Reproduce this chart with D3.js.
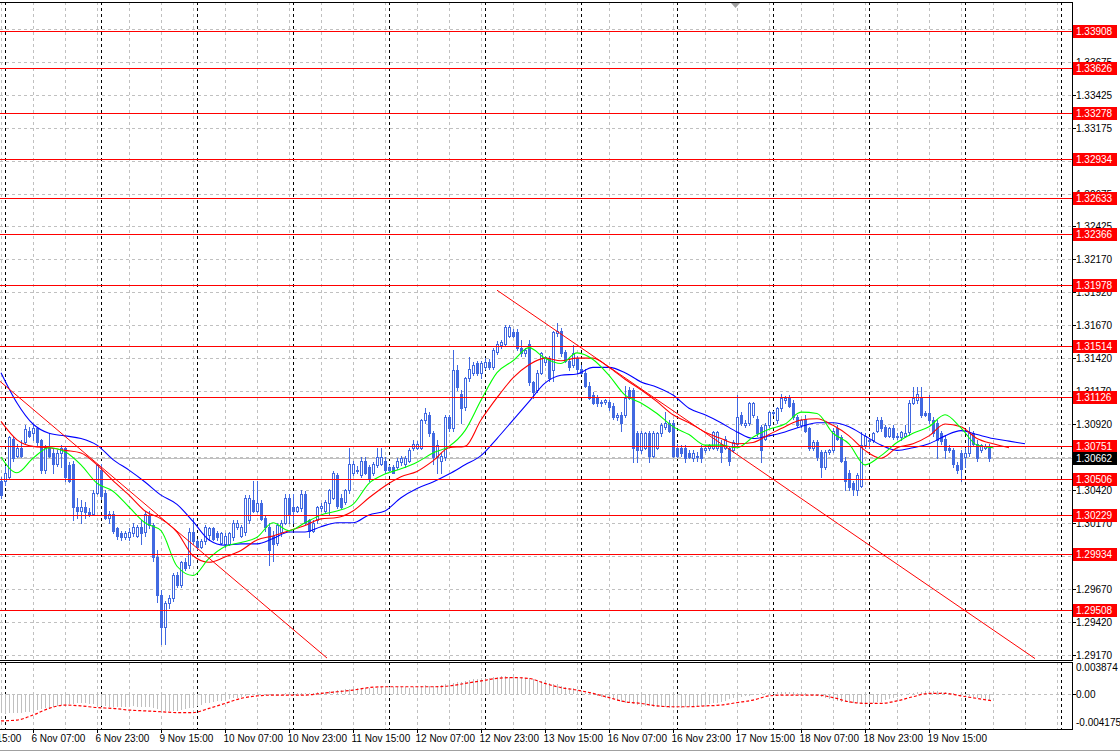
<!DOCTYPE html>
<html><head><meta charset="utf-8">
<script src="https://cdn.jsdelivr.net/npm/d3@7/dist/d3.min.js"></script>
<style>
html,body{margin:0;padding:0;background:#fff;overflow:hidden;}
svg{display:block;}
text{font-family:"Liberation Sans",Arial,sans-serif;font-size:10px;}
</style></head><body>
<svg id="c" width="1120" height="754"></svg>
<script>
// ===== DATA (H1 bars) =====
const opens = [1.3049,1.3049,1.3052,1.3081,1.3068,1.3074,1.3078,1.3087,1.3085,1.3089,1.3080,1.3057,1.3074,1.3070,1.3062,1.3070,1.3074,1.3061,1.3062,1.3029,1.3026,1.3029,1.3025,1.3024,1.3040,1.3057,1.3040,1.3021,1.3024,1.3013,1.3009,1.3006,1.3006,1.3009,1.3007,1.3014,1.3010,1.3023,1.3015,1.2991,1.2962,1.2938,1.2956,1.2960,1.2977,1.2970,1.2987,1.2985,1.3010,1.3003,1.2999,1.3003,1.3008,1.3013,1.3009,1.3002,1.3001,1.3001,1.3006,1.3014,1.3007,1.3010,1.3019,1.3034,1.3026,1.3032,1.3021,1.3014,1.3007,1.3002,1.3010,1.3017,1.3036,1.3029,1.3026,1.3028,1.3039,1.3019,1.3011,1.3019,1.3028,1.3026,1.3032,1.3036,1.3053,1.3036,1.3033,1.3042,1.3055,1.3057,1.3053,1.3064,1.3059,1.3055,1.3061,1.3062,1.3064,1.3059,1.3059,1.3059,1.3063,1.3062,1.3064,1.3074,1.3074,1.3074,1.3095,1.3099,1.3085,1.3067,1.3064,1.3067,1.3097,1.3089,1.3133,1.3115,1.3105,1.3127,1.3131,1.3138,1.3131,1.3135,1.3139,1.3135,1.3147,1.3152,1.3153,1.3159,1.3162,1.3162,1.3150,1.3146,1.3153,1.3124,1.3118,1.3131,1.3139,1.3142,1.3133,1.3161,1.3163,1.3147,1.3140,1.3137,1.3142,1.3134,1.3131,1.3121,1.3114,1.3112,1.3108,1.3109,1.3109,1.3106,1.3097,1.3099,1.3099,1.3118,1.3118,1.3085,1.3072,1.3074,1.3085,1.3068,1.3074,1.3085,1.3090,1.3093,1.3093,1.3074,1.3074,1.3074,1.3070,1.3066,1.3067,1.3074,1.3072,1.3074,1.3074,1.3074,1.3077,1.3074,1.3074,1.3072,1.3077,1.3099,1.3091,1.3093,1.3099,1.3096,1.3090,1.3081,1.3091,1.3100,1.3095,1.3104,1.3110,1.3112,1.3108,1.3097,1.3091,1.3096,1.3089,1.3074,1.3078,1.3071,1.3059,1.3071,1.3072,1.3089,1.3082,1.3064,1.3055,1.3047,1.3042,1.3045,1.3076,1.3079,1.3080,1.3087,1.3095,1.3090,1.3083,1.3089,1.3083,1.3082,1.3083,1.3086,1.3108,1.3110,1.3112,1.3100,1.3100,1.3095,1.3093,1.3085,1.3081,1.3074,1.3072,1.3061,1.3070,1.3067,1.3070,1.3085,1.3077,1.3072,1.3074,1.3074];
const highs = [1.3052,1.3060,1.3083,1.3083,1.3077,1.3080,1.3091,1.3090,1.3091,1.3090,1.3081,1.3076,1.3085,1.3074,1.3072,1.3076,1.3075,1.3063,1.3064,1.3036,1.3034,1.3033,1.3028,1.3042,1.3062,1.3062,1.3042,1.3026,1.3026,1.3014,1.3011,1.3011,1.3013,1.3017,1.3015,1.3019,1.3026,1.3026,1.3017,1.2996,1.2966,1.2958,1.2962,1.2979,1.2980,1.2988,1.2990,1.3013,1.3021,1.3005,1.3005,1.3015,1.3014,1.3014,1.3011,1.3010,1.3009,1.3010,1.3019,1.3019,1.3015,1.3038,1.3038,1.3049,1.3049,1.3034,1.3023,1.3017,1.3011,1.3017,1.3019,1.3039,1.3039,1.3039,1.3030,1.3042,1.3041,1.3020,1.3019,1.3030,1.3032,1.3034,1.3043,1.3056,1.3055,1.3039,1.3043,1.3074,1.3064,1.3060,1.3067,1.3067,1.3061,1.3063,1.3074,1.3074,1.3067,1.3061,1.3061,1.3066,1.3068,1.3068,1.3074,1.3080,1.3079,1.3096,1.3104,1.3101,1.3087,1.3080,1.3070,1.3099,1.3099,1.3148,1.3137,1.3118,1.3128,1.3143,1.3139,1.3140,1.3140,1.3142,1.3141,1.3150,1.3155,1.3156,1.3167,1.3167,1.3164,1.3164,1.3156,1.3150,1.3156,1.3125,1.3133,1.3147,1.3144,1.3144,1.3163,1.3169,1.3165,1.3148,1.3143,1.3152,1.3144,1.3137,1.3134,1.3124,1.3116,1.3114,1.3110,1.3111,1.3110,1.3108,1.3100,1.3101,1.3121,1.3120,1.3119,1.3087,1.3087,1.3086,1.3087,1.3087,1.3086,1.3093,1.3101,1.3095,1.3095,1.3077,1.3076,1.3076,1.3072,1.3072,1.3071,1.3076,1.3076,1.3077,1.3087,1.3087,1.3080,1.3083,1.3075,1.3080,1.3114,1.3101,1.3095,1.3109,1.3109,1.3098,1.3091,1.3093,1.3102,1.3102,1.3105,1.3115,1.3113,1.3114,1.3110,1.3099,1.3096,1.3099,1.3090,1.3080,1.3080,1.3072,1.3072,1.3073,1.3089,1.3091,1.3084,1.3067,1.3057,1.3049,1.3055,1.3086,1.3085,1.3081,1.3086,1.3097,1.3097,1.3091,1.3090,1.3091,1.3085,1.3087,1.3091,1.3110,1.3120,1.3120,1.3120,1.3102,1.3114,1.3097,1.3095,1.3087,1.3083,1.3076,1.3074,1.3063,1.3072,1.3074,1.3090,1.3087,1.3080,1.3077,1.3077,1.3077];
const lows = [1.3036,1.3046,1.3050,1.3064,1.3067,1.3067,1.3077,1.3082,1.3080,1.3076,1.3055,1.3055,1.3067,1.3055,1.3060,1.3059,1.3049,1.3048,1.3019,1.3021,1.3017,1.3021,1.3022,1.3023,1.3039,1.3035,1.3020,1.3017,1.3009,1.3005,1.3004,1.3005,1.3004,1.3007,1.3006,1.3001,1.3007,1.3013,1.2988,1.2957,1.2925,1.2925,1.2952,1.2958,1.2968,1.2968,1.2981,1.2983,1.3001,1.2997,1.2998,1.3001,1.3004,1.3004,1.3004,1.3001,1.2999,1.3000,1.3004,1.3012,1.3006,1.3008,1.3017,1.3025,1.3025,1.3019,1.3011,1.2985,1.2988,1.3000,1.3007,1.3016,1.3017,1.3017,1.3025,1.3026,1.3016,1.3006,1.3010,1.3017,1.3026,1.3025,1.3024,1.3035,1.3028,1.3028,1.3031,1.3040,1.3053,1.3055,1.3052,1.3054,1.3049,1.3053,1.3059,1.3061,1.3055,1.3056,1.3055,1.3058,1.3061,1.3059,1.3063,1.3072,1.3073,1.3073,1.3093,1.3083,1.3062,1.3055,1.3055,1.3065,1.3087,1.3087,1.3118,1.3093,1.3103,1.3125,1.3129,1.3129,1.3127,1.3134,1.3134,1.3134,1.3145,1.3150,1.3152,1.3158,1.3158,1.3148,1.3144,1.3144,1.3122,1.3112,1.3116,1.3130,1.3137,1.3125,1.3125,1.3159,1.3144,1.3139,1.3133,1.3135,1.3131,1.3130,1.3120,1.3111,1.3107,1.3106,1.3106,1.3107,1.3103,1.3096,1.3095,1.3087,1.3097,1.3111,1.3063,1.3063,1.3070,1.3073,1.3063,1.3067,1.3073,1.3083,1.3088,1.3086,1.3067,1.3067,1.3068,1.3063,1.3066,1.3064,1.3064,1.3063,1.3071,1.3072,1.3073,1.3072,1.3063,1.3073,1.3061,1.3071,1.3076,1.3091,1.3090,1.3091,1.3097,1.3083,1.3063,1.3080,1.3090,1.3099,1.3093,1.3102,1.3108,1.3105,1.3096,1.3090,1.3090,1.3086,1.3072,1.3072,1.3065,1.3052,1.3058,1.3069,1.3071,1.3080,1.3063,1.3042,1.3042,1.3038,1.3038,1.3044,1.3074,1.3074,1.3078,1.3086,1.3087,1.3082,1.3082,1.3081,1.3081,1.3080,1.3082,1.3084,1.3107,1.3108,1.3097,1.3098,1.3093,1.3083,1.3066,1.3077,1.3066,1.3071,1.3059,1.3055,1.3049,1.3059,1.3068,1.3076,1.3064,1.3071,1.3073,1.3064];
const closes = [1.3038,1.3055,1.3082,1.3066,1.3074,1.3068,1.3088,1.3083,1.3089,1.3078,1.3057,1.3074,1.3068,1.3062,1.3070,1.3074,1.3052,1.3049,1.3029,1.3026,1.3029,1.3025,1.3024,1.3040,1.3061,1.3037,1.3021,1.3024,1.3011,1.3007,1.3006,1.3009,1.3010,1.3014,1.3014,1.3009,1.3024,1.3015,1.2991,1.2962,1.2938,1.2956,1.2960,1.2977,1.2970,1.2987,1.2983,1.3010,1.3003,1.2999,1.3003,1.3014,1.3013,1.3005,1.3006,1.3009,1.3007,1.3009,1.3017,1.3017,1.3014,1.3036,1.3036,1.3026,1.3032,1.3020,1.3014,1.2996,1.3001,1.3015,1.3017,1.3036,1.3024,1.3026,1.3029,1.3039,1.3017,1.3011,1.3017,1.3029,1.3030,1.3033,1.3042,1.3055,1.3030,1.3029,1.3042,1.3062,1.3062,1.3056,1.3064,1.3055,1.3051,1.3062,1.3067,1.3067,1.3057,1.3057,1.3055,1.3064,1.3066,1.3066,1.3072,1.3077,1.3077,1.3095,1.3100,1.3085,1.3067,1.3076,1.3068,1.3097,1.3089,1.3133,1.3120,1.3104,1.3127,1.3134,1.3137,1.3131,1.3138,1.3139,1.3135,1.3148,1.3153,1.3154,1.3166,1.3166,1.3159,1.3150,1.3146,1.3148,1.3124,1.3116,1.3131,1.3146,1.3143,1.3127,1.3162,1.3163,1.3146,1.3140,1.3135,1.3146,1.3134,1.3131,1.3121,1.3112,1.3108,1.3108,1.3109,1.3110,1.3105,1.3097,1.3099,1.3093,1.3112,1.3112,1.3074,1.3072,1.3085,1.3085,1.3068,1.3085,1.3085,1.3091,1.3093,1.3087,1.3068,1.3068,1.3070,1.3066,1.3067,1.3070,1.3068,1.3066,1.3074,1.3076,1.3086,1.3086,1.3071,1.3081,1.3064,1.3078,1.3097,1.3093,1.3093,1.3108,1.3108,1.3085,1.3072,1.3091,1.3101,1.3101,1.3104,1.3112,1.3112,1.3106,1.3097,1.3091,1.3095,1.3087,1.3074,1.3078,1.3067,1.3059,1.3071,1.3072,1.3087,1.3081,1.3064,1.3049,1.3044,1.3043,1.3053,1.3076,1.3083,1.3080,1.3085,1.3095,1.3089,1.3083,1.3089,1.3082,1.3082,1.3086,1.3085,1.3108,1.3112,1.3115,1.3099,1.3099,1.3095,1.3085,1.3080,1.3079,1.3072,1.3072,1.3062,1.3057,1.3058,1.3070,1.3085,1.3077,1.3066,1.3076,1.3075,1.3066];

// Alligator-style moving averages, read every 4 bars (bar 0, 4, 8, ...)
const greenMA = [1.3067,1.3055,1.3066,1.3074,1.3071,1.3061,1.3047,1.3041,1.3029,1.3017,1.3011,1.2984,1.2977,1.2990,1.2999,1.3002,1.3006,1.3017,1.3011,1.3017,1.3023,1.3026,1.3031,1.3047,1.3054,1.3058,1.3063,1.3070,1.3075,1.3087,1.3110,1.3131,1.3140,1.3150,1.3142,1.3138,1.3146,1.3141,1.3129,1.3114,1.3108,1.3100,1.3090,1.3084,1.3076,1.3076,1.3074,1.3082,1.3088,1.3092,1.3101,1.3100,1.3085,1.3077,1.3061,1.3068,1.3078,1.3085,1.3090,1.3099,1.3089,1.3076,1.3074];
const redMA = [1.3094,1.3080,1.3075,1.3074,1.3072,1.3070,1.3061,1.3049,1.3038,1.3026,1.3020,1.3010,1.2992,1.2987,1.2991,1.2996,1.3004,1.3007,1.3011,1.3015,1.3020,1.3021,1.3026,1.3036,1.3045,1.3052,1.3056,1.3064,1.3074,1.3075,1.3095,1.3112,1.3127,1.3137,1.3142,1.3140,1.3142,1.3142,1.3135,1.3126,1.3118,1.3109,1.3099,1.3093,1.3086,1.3081,1.3077,1.3078,1.3084,1.3090,1.3095,1.3096,1.3091,1.3083,1.3072,1.3066,1.3074,1.3077,1.3083,1.3092,1.3090,1.3081,1.3077,1.3074];
const blueMA = [1.3131,1.3108,1.3092,1.3085,1.3083,1.3081,1.3076,1.3065,1.3057,1.3048,1.3038,1.3031,1.3018,1.3004,1.3000,1.3001,1.3001,1.3005,1.3010,1.3010,1.3014,1.3017,1.3017,1.3023,1.3026,1.3036,1.3043,1.3048,1.3054,1.3061,1.3068,1.3081,1.3095,1.3109,1.3123,1.3129,1.3130,1.3135,1.3135,1.3131,1.3124,1.3120,1.3114,1.3104,1.3099,1.3093,1.3086,1.3081,1.3083,1.3086,1.3090,1.3093,1.3093,1.3090,1.3083,1.3076,1.3072,1.3074,1.3077,1.3083,1.3087,1.3084,1.3081,1.3079,1.3077];

// MACD sub-window: histogram per bar, signal every 4 bars
const macdHist = [-0.0023,-0.0024,-0.0023,-0.0022,-0.0022,-0.0022,-0.0021,-0.0021,-0.0020,-0.0019,-0.0018,-0.0017,-0.0016,-0.0015,-0.0014,-0.0013,-0.0013,-0.0012,-0.0012,-0.0011,-0.0011,-0.0011,-0.0012,-0.0012,-0.0013,-0.0014,-0.0014,-0.0015,-0.0015,-0.0015,-0.0015,-0.0015,-0.0015,-0.0014,-0.0015,-0.0015,-0.0015,-0.0015,-0.0016,-0.0018,-0.0019,-0.0020,-0.0020,-0.0020,-0.0020,-0.0019,-0.0018,-0.0017,-0.0016,-0.0014,-0.0013,-0.0011,-0.0010,-0.0009,-0.0008,-0.0008,-0.0007,-0.0006,-0.0005,-0.0004,-0.0003,-0.0002,-0.0001,-0.0001,0.0000,0.0000,-0.0001,-0.0001,-0.0001,-0.0001,0.0000,0.0001,0.0001,0.0001,0.0001,0.0001,0.0001,0.0002,0.0002,0.0003,0.0003,0.0003,0.0004,0.0004,0.0005,0.0005,0.0006,0.0006,0.0007,0.0007,0.0007,0.0008,0.0008,0.0008,0.0008,0.0009,0.0009,0.0009,0.0009,0.0009,0.0009,0.0009,0.0008,0.0009,0.0009,0.0010,0.0011,0.0010,0.0010,0.0010,0.0011,0.0012,0.0013,0.0014,0.0015,0.0015,0.0016,0.0017,0.0018,0.0018,0.0019,0.0020,0.0020,0.0021,0.0021,0.0022,0.0022,0.0021,0.0021,0.0021,0.0021,0.0020,0.0019,0.0018,0.0017,0.0016,0.0014,0.0013,0.0012,0.0012,0.0010,0.0009,0.0008,0.0007,0.0005,0.0004,0.0002,0.0001,-0.0001,-0.0002,-0.0003,-0.0004,-0.0005,-0.0006,-0.0008,-0.0009,-0.0010,-0.0011,-0.0012,-0.0013,-0.0014,-0.0014,-0.0014,-0.0015,-0.0015,-0.0015,-0.0015,-0.0016,-0.0016,-0.0016,-0.0016,-0.0015,-0.0015,-0.0015,-0.0014,-0.0014,-0.0013,-0.0012,-0.0011,-0.0010,-0.0009,-0.0008,-0.0006,-0.0005,-0.0004,-0.0003,-0.0002,-0.0002,-0.0001,0.0000,0.0001,0.0001,0.0002,0.0002,0.0003,0.0003,0.0003,0.0003,0.0003,0.0002,0.0002,0.0001,0.0000,-0.0001,-0.0002,-0.0003,-0.0004,-0.0006,-0.0007,-0.0008,-0.0009,-0.0009,-0.0010,-0.0011,-0.0011,-0.0011,-0.0011,-0.0010,-0.0010,-0.0009,-0.0009,-0.0007,-0.0006,-0.0004,-0.0003,-0.0002,0.0000,0.0001,0.0002,0.0003,0.0003,0.0004,0.0004,0.0004,0.0004,0.0003,0.0003,0.0002,0.0001,0.0000,-0.0001,-0.0002,-0.0002,-0.0003,-0.0004,-0.0005,-0.0006,-0.0007];
const macdSignal = [-0.0032,-0.0031,-0.0025,-0.0017,-0.0013,-0.0014,-0.0016,-0.0017,-0.0019,-0.0020,-0.0021,-0.0022,-0.0022,-0.0017,-0.0011,-0.0005,-0.0002,-0.0001,-0.0001,-0.0001,0.0001,0.0003,0.0005,0.0008,0.0009,0.0009,0.0009,0.0009,0.0010,0.0013,0.0016,0.0019,0.0020,0.0019,0.0013,0.0008,0.0005,0.0001,-0.0004,-0.0009,-0.0011,-0.0014,-0.0015,-0.0015,-0.0014,-0.0013,-0.0010,-0.0007,-0.0002,-0.0001,-0.0001,-0.0001,-0.0004,-0.0009,-0.0011,-0.0011,-0.0008,-0.0003,0.0001,0.0001,-0.0002,-0.0005,-0.0008];
const macdMax = 0.003874, macdMin = -0.004175;

// horizontal support/resistance levels
const levels = [1.33908,1.33626,1.33278,1.32934,1.32633,1.32366,1.31978,1.31514,1.31126,1.30751,1.30506,1.30229,1.29934,1.29508];
const levelLabels = ["1.33908","1.33626","1.33278","1.32934","1.32633","1.32366","1.31978","1.31514","1.31126","1.30751","1.30506","1.30229","1.29934","1.29508"];
const bidPrice = 1.30662, bidLabel = "1.30662";

// trend lines: [barIndex, price] pairs
const trendLine1 = [[-0.25, 1.31244], [81.5, 1.29143]];
const trendLine2 = [[124, 1.31936], [258.5, 1.29139]];

// price axis ticks
const priceTicks = [1.33920,1.33670,1.33420,1.33170,1.32920,1.32670,1.32420,1.32170,1.31920,1.31670,1.31420,1.31170,1.30920,1.30670,1.30420,1.30170,1.29920,1.29670,1.29420,1.29170];
const priceTickLabels = ["1.33925","1.33675","1.33425","1.33175","1.32925","1.32675","1.32425","1.32170","1.31920","1.31670","1.31420","1.31170","1.30920","1.30670","1.30420","1.30170","1.29920","1.29670","1.29420","1.29170"];

// time axis (bar 0 = 5 Nov 23:00)
const timeLabels = ["5 Nov 15:00","6 Nov 07:00","6 Nov 23:00","9 Nov 15:00","10 Nov 07:00","10 Nov 23:00","11 Nov 15:00","12 Nov 07:00","12 Nov 23:00","13 Nov 15:00","16 Nov 07:00","16 Nov 23:00","17 Nov 15:00","18 Nov 07:00","18 Nov 23:00","19 Nov 15:00"];
const timeLabelBars = [-8,8,24,40,56,72,88,104,120,136,152,168,184,200,216,232];
const daySeparatorBars = [1,25,49,73,97,121,145,169,193,217,241,265];
const gridBars = [0,8,16,24,32,40,48,56,64,72,80,88,96,104,112,120,128,136,144,152,160,168,176,184,192,200,208,216,224,232,240,248,256,264];
const shiftMarkerBar = 183.5;

// ===== LAYOUT =====
const axisX = 1072;
const mainTop = 2, mainBottom = 660, subTop = 662, subBottom = 729;
const candleColor = "#4169e1";

const x = d3.scaleLinear().domain([0, 247]).range([1, 989]);
const y = d3.scaleLinear().domain([1.29170, 1.33908]).range([654.5, 30.5]);
const ym = d3.scaleLinear().domain([macdMin, macdMax]).range([subBottom, subTop]);
const px = v => Math.round(v) + 0.5;

const svg = d3.select("#c");
svg.append("rect").attr("width",1120).attr("height",754).attr("fill","#fff");
const defs = svg.append("defs");
defs.append("clipPath").attr("id","clipMain").append("rect").attr("x",0).attr("y",mainTop+1).attr("width",axisX).attr("height",mainBottom-mainTop-1);
defs.append("clipPath").attr("id","clipSub").append("rect").attr("x",0).attr("y",subTop+1).attr("width",axisX).attr("height",subBottom-subTop-1);

const gMain = svg.append("g").attr("clip-path","url(#clipMain)");
const gSub = svg.append("g").attr("clip-path","url(#clipSub)");
const crisp = s => s.attr("shape-rendering","crispEdges");

// grid - horizontal
priceTicks.forEach(v => {
  crisp(gMain.append("line").attr("x1",0).attr("x2",axisX).attr("y1",px(y(v))).attr("y2",px(y(v)))
    .attr("stroke","#c0c0c0").attr("stroke-dasharray","3,3"));
});
crisp(gSub.append("line").attr("x1",0).attr("x2",axisX).attr("y1",px(ym(0))).attr("y2",px(ym(0)))
  .attr("stroke","#c0c0c0").attr("stroke-dasharray","3,3"));
// grid - vertical
gridBars.forEach(b => {
  [gMain, gSub].forEach((g,k) => {
    crisp(g.append("line").attr("x1",px(x(b))).attr("x2",px(x(b)))
      .attr("y1",k?subTop:mainTop).attr("y2",k?subBottom:mainBottom)
      .attr("stroke","#c0c0c0").attr("stroke-dasharray","3,3"));
  });
});
daySeparatorBars.forEach(b => {
  [gMain, gSub].forEach((g,k) => {
    crisp(g.append("line").attr("x1",px(x(b))).attr("x2",px(x(b)))
      .attr("y1",k?subTop:mainTop).attr("y2",k?subBottom:mainBottom)
      .attr("stroke","#000").attr("stroke-dasharray","3,3"));
  });
});

// bid line
crisp(gMain.append("line").attr("x1",0).attr("x2",axisX).attr("y1",px(y(bidPrice))).attr("y2",px(y(bidPrice))).attr("stroke","#c0c0c0"));

// candles
const bars = closes.map((c,i)=>({i,o:opens[i],h:Math.max(highs[i],opens[i],c),l:Math.min(lows[i],opens[i],c),c}));
const gC = gMain.append("g");
bars.forEach(d => {
  const xc = Math.round(x(d.i));
  crisp(gC.append("line").attr("x1",xc+0.5).attr("x2",xc+0.5)
    .attr("y1",Math.round(y(d.h))).attr("y2",Math.round(y(d.l))+1).attr("stroke",candleColor));
  const top = Math.round(y(Math.max(d.o,d.c))), bot = Math.round(y(Math.min(d.o,d.c)));
  if (d.c >= d.o) {
    crisp(gC.append("rect").attr("x",xc-0.5).attr("y",top+0.5).attr("width",2).attr("height",Math.max(bot-top,0))
      .attr("fill","#fff").attr("stroke",candleColor));
  } else {
    crisp(gC.append("rect").attr("x",xc-1).attr("y",top).attr("width",3).attr("height",bot-top+1).attr("fill",candleColor));
  }
});

// moving averages
function maLine(vals, color) {
  const pts = vals.map((v,k)=>[x(k*4), y(v)]);
  gMain.append("path").attr("d", d3.line().curve(d3.curveMonotoneX)(pts))
    .attr("fill","none").attr("stroke",color).attr("stroke-width",1.1);
}
maLine(blueMA, "#0000ff");
maLine(redMA, "#ff0000");
maLine(greenMA, "#00ff00");

// levels
levels.forEach(v => {
  crisp(gMain.append("line").attr("x1",0).attr("x2",axisX).attr("y1",px(y(v))).attr("y2",px(y(v))).attr("stroke","#ff0000"));
});
// trend lines
[trendLine1, trendLine2].forEach(t => {
  gMain.append("line").attr("x1",x(t[0][0])).attr("y1",y(t[0][1])).attr("x2",x(t[1][0])).attr("y2",y(t[1][1]))
    .attr("stroke","#ff0000").attr("stroke-width",1);
});

// MACD histogram + signal
macdHist.forEach((v,i) => {
  const xc = Math.round(x(i));
  crisp(gSub.append("line").attr("x1",xc+0.5).attr("x2",xc+0.5).attr("y1",Math.round(ym(0))).attr("y2",Math.round(ym(v)))
    .attr("stroke","#c0c0c0"));
});
gSub.append("path").attr("d", d3.line().curve(d3.curveMonotoneX)(macdSignal.map((v,k)=>[x(k*4), ym(v)])))
  .attr("fill","none").attr("stroke","#ff0000").attr("stroke-width",1.2).attr("stroke-dasharray","3,2");

// borders
const border = (x1,y1,x2,y2,c) => crisp(svg.append("line").attr("x1",x1).attr("y1",y1).attr("x2",x2).attr("y2",y2).attr("stroke",c||"#000"));
border(0, mainTop+0.5, axisX+0.5, mainTop+0.5);
border(0, mainBottom+0.5, axisX+0.5, mainBottom+0.5);
border(0, subTop+0.5, axisX+0.5, subTop+0.5);
border(0, subBottom+0.5, axisX+0.5, subBottom+0.5);
border(axisX+0.5, mainTop, axisX+0.5, mainBottom+1);
border(axisX+0.5, subTop, axisX+0.5, subBottom+1);
border(0, 750.5, 1120, 750.5, "#a0a0a0");

// shift marker
const mx = Math.round(x(shiftMarkerBar));
svg.append("path").attr("d",`M${mx-4},${mainTop+1}L${mx+5},${mainTop+1}L${mx+0.5},${mainTop+6}Z`).attr("fill","#a0a0a0");

// price axis labels (those completely hidden under a level box are not drawn)
const boxYs = levels.concat([bidPrice]).map(v => y(v));
priceTicks.forEach((v,k) => {
  const yy = px(y(v));
  crisp(svg.append("line").attr("x1",axisX).attr("x2",axisX+4).attr("y1",yy).attr("y2",yy).attr("stroke","#000"));
  const hidden = boxYs.some(b => Math.abs(b - y(v)) < 4);
  if (!hidden) svg.append("text").attr("x",axisX+4).attr("y",yy+3.5).attr("fill","#000").text(priceTickLabels[k]);
});
// level boxes
function box(v, label, bg) {
  const yy = Math.round(y(v));
  crisp(svg.append("rect").attr("x",axisX+1).attr("y",yy-6).attr("width",44).attr("height",13).attr("fill",bg));
  svg.append("text").attr("x",axisX+4).attr("y",yy+4).attr("fill","#fff").text(label);
}
levels.forEach((v,k) => box(v, levelLabels[k], "#ff0000"));
box(bidPrice, bidLabel, "#000");

// MACD axis labels
svg.append("text").attr("x",axisX+4).attr("y",subTop+9).attr("fill","#000").text(String(macdMax));
crisp(svg.append("line").attr("x1",axisX).attr("x2",axisX+4).attr("y1",px(ym(0))).attr("y2",px(ym(0))).attr("stroke","#000"));
svg.append("text").attr("x",axisX+4).attr("y",px(ym(0))+3.5).attr("fill","#000").text("0.00");
svg.append("text").attr("x",axisX+4).attr("y",subBottom-3).attr("fill","#000").text(String(macdMin));

// time axis labels
timeLabels.forEach((t,k) => {
  const xx = px(x(timeLabelBars[k]));
  crisp(svg.append("line").attr("x1",xx).attr("x2",xx).attr("y1",subBottom).attr("y2",subBottom+4).attr("stroke","#000"));
  svg.append("text").attr("x",xx-2).attr("y",742).attr("fill","#000").text(t);
});
</script>
</body></html>
